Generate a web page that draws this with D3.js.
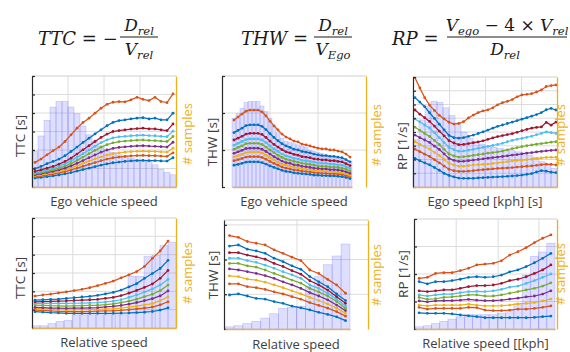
<!DOCTYPE html>
<html lang="en">
<head>
<meta charset="UTF-8">
<title>TTC / THW / RP percentiles</title>
<style>
  body { margin: 0; background: #fff; }
  svg { display: block; }
</style>
</head>
<body>
<script src="https://d3js.org/d3.v7.min.js"></script>
<div id="chart"></div>
<script>
// percentile curves, listed bottom (10%) to top (90%)
const percentiles = ["10%", "20%", "30%", "40%", "50%", "60%", "70%", "80%", "90%"];
const lineColors = ["#0072BD", "#D95319", "#EDB120", "#7E2F8E", "#77AC30", "#4DBEEE", "#A2142F", "#0072BD", "#D95319"];

// ---- TTC vs ego vehicle speed (24 bins) ----
const ttcEgoCounts = [0.32,0.46,0.60,0.72,0.77,0.77,0.72,0.66,0.55,0.47,0.41,0.37,0.34,0.31,0.29,0.28,0.26,0.25,0.24,0.23,0.20,0.16,0.13,0.11];
const ttcEgoCurves = [
  [0.48,0.52,0.56,0.60,0.65,0.71,0.78,0.86,0.94,1.02,1.10,1.18,1.25,1.31,1.35,1.38,1.41,1.43,1.44,1.43,1.43,1.41,1.40,1.58],
  [0.56,0.60,0.65,0.70,0.76,0.83,0.92,1.02,1.12,1.22,1.32,1.42,1.51,1.58,1.62,1.65,1.68,1.70,1.71,1.69,1.69,1.67,1.66,1.85],
  [0.61,0.66,0.72,0.78,0.85,0.93,1.03,1.15,1.28,1.40,1.52,1.63,1.73,1.80,1.85,1.88,1.91,1.93,1.94,1.92,1.92,1.90,1.88,2.10],
  [0.66,0.72,0.78,0.85,0.93,1.02,1.14,1.28,1.43,1.58,1.73,1.88,2.00,2.09,2.14,2.17,2.20,2.22,2.23,2.21,2.20,2.18,2.16,2.42],
  [0.71,0.78,0.85,0.93,1.02,1.13,1.27,1.44,1.62,1.80,1.98,2.15,2.29,2.39,2.45,2.48,2.51,2.53,2.54,2.52,2.51,2.48,2.46,2.73],
  [0.76,0.84,0.92,1.01,1.12,1.25,1.41,1.60,1.80,2.00,2.20,2.40,2.55,2.66,2.71,2.74,2.77,2.79,2.80,2.78,2.77,2.74,2.72,3.02],
  [0.84,0.93,1.02,1.11,1.24,1.38,1.56,1.78,2.01,2.23,2.46,2.68,2.86,3.00,3.05,3.09,3.13,3.16,3.18,3.14,3.14,3.09,3.05,3.41],
  [0.99,1.11,1.26,1.38,1.51,1.69,1.92,2.16,2.41,2.64,2.87,3.09,3.31,3.49,3.59,3.63,3.68,3.72,3.75,3.68,3.72,3.63,3.63,3.99],
  [1.33,1.51,1.74,1.96,2.16,2.46,2.82,3.18,3.49,3.72,3.99,4.26,4.47,4.58,4.62,4.60,4.71,4.85,4.74,4.67,4.85,4.62,4.56,5.03]
];

// ---- THW vs ego vehicle speed (30 bins) ----
const thwEgoCounts = [0.62,0.66,0.71,0.76,0.77,0.77,0.77,0.73,0.68,0.62,0.55,0.49,0.44,0.41,0.40,0.39,0.38,0.37,0.36,0.33,0.32,0.31,0.30,0.29,0.28,0.27,0.26,0.25,0.24,0.23];
const thwEgoCurves = [
  [0.59,0.61,0.64,0.67,0.68,0.68,0.68,0.66,0.62,0.57,0.53,0.49,0.45,0.42,0.41,0.38,0.37,0.36,0.35,0.34,0.32,0.32,0.31,0.31,0.30,0.30,0.29,0.28,0.26,0.23],
  [0.71,0.74,0.77,0.81,0.82,0.82,0.82,0.80,0.75,0.69,0.64,0.59,0.54,0.51,0.49,0.46,0.45,0.43,0.42,0.41,0.39,0.38,0.37,0.37,0.36,0.36,0.35,0.34,0.31,0.28],
  [0.81,0.85,0.88,0.93,0.94,0.94,0.94,0.92,0.86,0.79,0.73,0.67,0.62,0.59,0.56,0.53,0.52,0.49,0.48,0.47,0.45,0.44,0.43,0.43,0.41,0.41,0.40,0.39,0.36,0.32],
  [0.91,0.95,0.99,1.04,1.05,1.05,1.05,1.02,0.96,0.89,0.82,0.76,0.70,0.66,0.64,0.60,0.59,0.56,0.55,0.53,0.51,0.50,0.49,0.49,0.47,0.47,0.46,0.44,0.41,0.37],
  [1.02,1.07,1.11,1.17,1.18,1.18,1.18,1.15,1.08,1.00,0.93,0.86,0.80,0.75,0.72,0.69,0.67,0.64,0.63,0.61,0.59,0.57,0.56,0.56,0.54,0.54,0.53,0.51,0.48,0.43],
  [1.13,1.18,1.23,1.28,1.30,1.30,1.30,1.27,1.20,1.11,1.03,0.96,0.89,0.84,0.81,0.77,0.76,0.72,0.71,0.69,0.67,0.65,0.64,0.64,0.62,0.62,0.60,0.59,0.55,0.50],
  [1.27,1.32,1.37,1.43,1.45,1.45,1.45,1.42,1.34,1.24,1.15,1.08,1.01,0.95,0.92,0.88,0.86,0.82,0.81,0.79,0.76,0.75,0.73,0.73,0.71,0.71,0.69,0.68,0.63,0.58],
  [1.47,1.53,1.59,1.66,1.68,1.68,1.68,1.64,1.55,1.44,1.34,1.25,1.17,1.11,1.07,1.02,1.00,0.96,0.94,0.92,0.89,0.87,0.85,0.85,0.83,0.83,0.81,0.79,0.74,0.68],
  [1.81,1.89,1.97,2.05,2.08,2.08,2.08,2.03,1.92,1.78,1.65,1.54,1.43,1.35,1.30,1.24,1.22,1.16,1.14,1.11,1.08,1.05,1.03,1.03,1.00,1.00,0.97,0.95,0.89,0.81]
];

// ---- RP vs ego speed (24 bins, 30 curve points) ----
const rpEgoCounts = [0.43,0.61,0.73,0.78,0.77,0.72,0.65,0.58,0.50,0.44,0.41,0.39,0.37,0.36,0.35,0.34,0.33,0.32,0.31,0.29,0.27,0.23,0.20,0.17];
const rpEgoCurves = [
  [2.08,1.91,1.76,1.61,1.42,1.22,0.99,0.84,0.73,0.65,0.63,0.63,0.63,0.66,0.68,0.70,0.72,0.74,0.76,0.78,0.80,0.83,0.87,0.92,0.98,1.09,1.19,1.15,1.08,1.04],
  [2.75,2.57,2.39,2.22,1.99,1.76,1.52,1.29,1.19,1.13,1.13,1.16,1.19,1.23,1.26,1.29,1.32,1.35,1.37,1.39,1.41,1.45,1.48,1.51,1.54,1.58,1.62,1.66,1.64,1.60],
  [3.30,3.10,2.93,2.76,2.52,2.29,2.00,1.73,1.60,1.51,1.51,1.56,1.60,1.62,1.65,1.67,1.71,1.75,1.80,1.84,1.90,1.93,1.96,1.99,2.02,2.07,2.11,2.15,2.16,2.16],
  [3.78,3.59,3.42,3.24,2.98,2.73,2.41,2.08,1.94,1.86,1.87,1.91,1.96,2.00,2.05,2.10,2.14,2.18,2.22,2.27,2.32,2.36,2.41,2.46,2.50,2.55,2.59,2.63,2.66,2.69],
  [4.35,4.12,3.90,3.68,3.39,3.09,2.74,2.40,2.26,2.18,2.20,2.25,2.30,2.35,2.40,2.46,2.50,2.55,2.61,2.70,2.79,2.86,2.93,3.00,3.06,3.11,3.16,3.21,3.26,3.30],
  [4.95,4.73,4.51,4.29,3.95,3.59,3.23,2.89,2.72,2.60,2.61,2.68,2.74,2.81,2.88,2.95,3.02,3.09,3.18,3.29,3.39,3.47,3.54,3.61,3.69,3.80,3.90,4.00,3.95,3.90],
  [5.60,5.30,5.04,4.77,4.43,4.07,3.72,3.37,3.20,3.08,3.10,3.16,3.22,3.28,3.36,3.47,3.57,3.67,3.74,3.81,3.88,3.98,4.09,4.19,4.28,4.33,4.37,4.70,4.50,4.72],
  [6.50,6.18,5.84,5.40,4.99,4.57,4.16,3.75,3.59,3.55,3.59,3.68,3.78,3.89,4.01,4.14,4.28,4.41,4.51,4.62,4.72,4.83,4.93,5.04,5.15,5.27,5.41,5.62,5.72,5.60],
  [7.95,7.20,6.50,5.96,5.57,5.21,4.95,4.71,4.58,4.62,4.75,5.02,5.23,5.41,5.53,5.61,5.76,5.98,6.13,6.23,6.36,6.56,6.70,6.74,6.79,6.91,7.06,7.31,7.38,7.42]
];

// ---- TTC vs relative speed (18 bins) ----
const ttcRelCounts = [0.02,0.02,0.04,0.06,0.07,0.12,0.12,0.12,0.12,0.12,0.12,0.12,0.47,0.47,0.65,0.66,0.75,0.78];
const ttcRelCurves = [
  [0.89,0.87,0.84,0.82,0.80,0.80,0.80,0.80,0.80,0.80,0.80,0.81,0.82,0.84,0.86,0.90,0.98,1.10],
  [0.98,0.96,0.94,0.91,0.89,0.90,0.90,0.91,0.92,0.93,0.94,0.96,1.00,1.04,1.09,1.14,1.26,1.43],
  [1.07,1.05,1.03,1.00,0.98,0.99,1.00,1.01,1.02,1.04,1.06,1.09,1.14,1.19,1.26,1.33,1.49,1.70],
  [1.12,1.11,1.09,1.08,1.07,1.08,1.09,1.10,1.11,1.15,1.18,1.23,1.30,1.39,1.49,1.60,1.75,2.02],
  [1.25,1.24,1.22,1.21,1.20,1.21,1.22,1.23,1.24,1.28,1.32,1.38,1.47,1.58,1.71,1.84,2.04,2.34],
  [1.34,1.34,1.34,1.34,1.34,1.35,1.36,1.37,1.38,1.42,1.46,1.54,1.67,1.80,1.96,2.13,2.35,2.65],
  [1.43,1.44,1.45,1.47,1.48,1.50,1.52,1.54,1.56,1.62,1.67,1.77,1.90,2.05,2.22,2.40,2.71,3.14],
  [1.52,1.54,1.56,1.58,1.61,1.65,1.69,1.73,1.78,1.86,1.94,2.07,2.24,2.42,2.71,2.97,3.25,3.69],
  [1.74,1.80,1.85,1.91,1.97,2.04,2.11,2.20,2.31,2.43,2.56,2.73,2.90,3.08,3.36,3.80,4.20,4.74]
];

// ---- THW vs relative speed (14 bins) ----
const thwRelCounts = [0.02,0.03,0.05,0.07,0.10,0.14,0.19,0.20,0.21,0.39,0.48,0.59,0.67,0.78];
const thwRelCurves = [
  [0.98,1.01,0.95,0.88,0.86,0.79,0.74,0.66,0.61,0.55,0.48,0.42,0.35,0.24],
  [1.30,1.30,1.22,1.19,1.14,1.07,1.01,0.93,0.86,0.76,0.68,0.60,0.50,0.37],
  [1.53,1.51,1.44,1.41,1.35,1.27,1.19,1.10,1.01,0.91,0.82,0.72,0.60,0.45],
  [1.73,1.70,1.65,1.60,1.54,1.46,1.36,1.27,1.17,1.05,0.95,0.84,0.69,0.53],
  [1.89,1.89,1.82,1.78,1.70,1.60,1.51,1.41,1.32,1.17,1.07,0.95,0.79,0.60],
  [2.04,2.04,1.97,1.92,1.84,1.75,1.65,1.56,1.46,1.27,1.17,1.03,0.86,0.66],
  [2.20,2.20,2.13,2.08,2.01,1.89,1.80,1.68,1.58,1.39,1.27,1.12,0.93,0.74],
  [2.39,2.42,2.30,2.25,2.18,2.04,1.94,1.82,1.72,1.51,1.36,1.22,1.01,0.82],
  [2.69,2.64,2.52,2.47,2.42,2.28,2.18,2.07,1.97,1.70,1.60,1.43,1.27,1.03]
];

// ---- RP vs relative speed (17 bins) ----
const rpRelCounts = [0.02,0.03,0.05,0.07,0.09,0.11,0.13,0.13,0.13,0.13,0.14,0.17,0.23,0.49,0.66,0.70,0.78];
const rpRelCurves = [
  [0.59,0.57,0.57,0.57,0.55,0.51,0.48,0.45,0.41,0.41,0.41,0.41,0.41,0.41,0.42,0.45,0.47],
  [0.79,0.72,0.75,0.75,0.75,0.75,0.79,0.78,0.69,0.67,0.67,0.69,0.72,0.72,0.75,0.79,0.84],
  [0.87,0.84,0.87,0.87,0.87,0.87,0.90,0.87,0.84,0.84,0.85,0.87,0.91,0.93,0.96,1.02,1.09],
  [1.02,0.99,1.02,1.03,1.03,1.05,1.08,1.05,1.03,1.03,1.05,1.09,1.12,1.17,1.20,1.27,1.39],
  [1.15,1.08,1.10,1.15,1.17,1.20,1.24,1.24,1.20,1.20,1.24,1.30,1.36,1.42,1.48,1.56,1.68],
  [1.24,1.20,1.24,1.27,1.27,1.32,1.36,1.37,1.36,1.39,1.44,1.52,1.56,1.66,1.76,1.88,2.00],
  [1.39,1.36,1.39,1.42,1.42,1.48,1.54,1.58,1.58,1.60,1.66,1.76,1.81,1.90,2.02,2.15,2.33],
  [1.72,1.64,1.72,1.72,1.76,1.81,1.88,1.90,1.88,1.90,1.96,2.08,2.15,2.27,2.41,2.57,2.75],
  [1.84,1.88,2.02,2.05,2.05,2.12,2.21,2.33,2.36,2.39,2.48,2.69,2.81,2.96,3.14,3.30,3.42]
];

// panel layout: box in px, histogram pixel span, grid positions in bin units
const panels = [
  { counts: ttcEgoCounts, curves: ttcEgoCurves, box: [32, 76, 176, 187], bins: [32, 176], span: [0.5, 23.5],
    yMax: 6, xGrid: [6, 12, 18], xLabel: "Ego vehicle speed", yLabel: "TTC [s]", labY: 206, yLabX: 20, yLabY: 136, rLabX: 188, rLabY: 134 },
  { counts: thwEgoCounts, curves: thwEgoCurves, box: [222, 76, 366, 187], bins: [232, 352], span: [0.5, 29.5],
    yMax: 3, xGrid: [9.5, 21.5], xLabel: "Ego vehicle speed", yLabel: "THW [s]", labY: 206, yLabX: 212, yLabY: 142, rLabX: 377, rLabY: 135 },
  { counts: rpEgoCounts, curves: rpEgoCurves, box: [413, 77, 557, 187], bins: [413, 557], span: [0.33, 23.83],
    yMax: 8, xGrid: [6.1, 12.1, 18.1], xLabel: "Ego speed [kph] [s]", yLabel: "RP [1/s]", labY: 206, yLabX: 402, yLabY: 146, rLabX: 561, rLabY: 135 },
  { counts: ttcRelCounts, curves: ttcRelCurves, box: [32, 218, 176, 328], bins: [32, 176], span: [0.375, 17.0],
    yMax: 6, xGrid: [5.1, 10.4, 15.4], xLabel: "Relative speed", yLabel: "TTC [s]", labY: 347, yLabX: 20, yLabY: 278, rLabX: 188, rLabY: 273 },
  { counts: thwRelCounts, curves: thwRelCurves, box: [224, 220, 368, 329], bins: [225, 350], span: [0.5, 13.5],
    yMax: 3.14, xGrid: [8.06], xLabel: "Relative speed", yLabel: "THW [s]", labY: 349, yLabX: 213, yLabY: 275, rLabX: 377, rLabY: 275 },
  { counts: rpRelCounts, curves: rpRelCurves, box: [414, 219, 557, 329], bins: [415, 555], span: [0.5, 16.5],
    yMax: 4, xGrid: [5, 10.1, 15.05], xLabel: "Relative speed [[kph]", yLabel: "RP [1/s]", labY: 348, yLabX: 403, yLabY: 274, rLabX: 561, rLabY: 274 }
];

const svg = d3.select("#chart").append("svg")
  .attr("width", 570)
  .attr("height", 352)
  .style("font-family", "'Open Sans', sans-serif");

svg.append("rect").attr("width", 570).attr("height", 352).attr("fill", "#fff");

panels.forEach((p, k) => {
  const [left, top, right, bottom] = p.box;
  const g = svg.append("g");

  const x = d3.scaleLinear().domain([0, p.counts.length]).range(p.bins);
  const y = d3.scaleLinear().domain([0, p.yMax]).range([bottom, top]);
  const yCount = d3.scaleLinear().domain([0, 1]).range([bottom, top]);

  svg.append("clipPath").attr("id", "clip" + k)
    .append("rect").attr("x", left).attr("y", top).attr("width", right - left).attr("height", bottom - top);

  // grid
  g.selectAll(".vgrid").data(p.xGrid).join("line")
    .attr("x1", d => x(d)).attr("x2", d => x(d))
    .attr("y1", top).attr("y2", bottom)
    .attr("stroke", "#dcdcdc").attr("stroke-width", 1);
  g.selectAll(".hgrid").data(d3.range(1, Math.ceil(p.yMax))).join("line")
    .attr("x1", left).attr("x2", right)
    .attr("y1", d => y(d)).attr("y2", d => y(d))
    .attr("stroke", "#dcdcdc").attr("stroke-width", 1);

  // histogram of samples (right axis)
  g.selectAll(".bar").data(p.counts).join("rect")
    .attr("x", (d, i) => x(i))
    .attr("width", x(1) - x(0))
    .attr("y", d => yCount(d))
    .attr("height", d => bottom - yCount(d))
    .attr("fill", "rgba(90,90,250,0.20)")
    .attr("stroke", "rgba(90,90,250,0.28)")
    .attr("stroke-width", 0.7);

  // percentile curves
  const n = p.curves[0].length;
  const xi = d3.scaleLinear().domain([0, n - 1]).range([x(p.span[0]), x(p.span[1])]);
  const line = d3.line().x((d, i) => xi(i)).y(d => y(d));
  const lines = g.append("g").attr("clip-path", `url(#clip${k})`);
  p.curves.forEach((c, s) => {
    lines.append("path")
      .datum(c)
      .attr("d", line)
      .attr("fill", "none")
      .attr("stroke", lineColors[s])
      .attr("stroke-width", 1.25)
      .attr("data-pct", percentiles[s]);
    lines.selectAll(".m" + s).data(c).join("circle")
      .attr("cx", (d, i) => xi(i))
      .attr("cy", d => y(d))
      .attr("r", 1.4)
      .attr("fill", lineColors[s]);
  });

  // box: light top, dark left, orange right and bottom
  g.append("line").attr("x1", left).attr("x2", right).attr("y1", top).attr("y2", top)
    .attr("stroke", "#cfcfcf");
  g.append("g")
    .attr("transform", `translate(${left},0)`)
    .call(d3.axisLeft(y).tickValues(d3.range(0, Math.floor(p.yMax) + 1)).tickSize(-3).tickSizeOuter(0).tickFormat(""))
    .call(a => a.selectAll("path, line").attr("stroke", "#2b2b2b").attr("stroke-width", 1.2));
  g.append("g")
    .attr("transform", `translate(${right},0)`)
    .call(d3.axisRight(yCount).tickValues([]).tickSizeOuter(0))
    .call(a => a.select(".domain").attr("stroke", "#EDB120").attr("stroke-width", 1.3));
  g.append("g")
    .attr("transform", `translate(0,${bottom})`)
    .call(d3.axisBottom(x).tickValues([]).tickSizeOuter(0))
    .call(a => a.select(".domain").attr("stroke", "#e3b35a").attr("stroke-width", 1.3));

  // labels
  g.append("text")
    .attr("x", (left + right) / 2).attr("y", p.labY)
    .attr("text-anchor", "middle")
    .style("font-size", "13px").style("fill", "#404040")
    .text(p.xLabel);
  g.append("text")
    .attr("transform", `translate(${p.yLabX},${p.yLabY}) rotate(-90)`)
    .attr("text-anchor", "middle").attr("dy", "0.35em")
    .style("font-size", "13.5px").style("fill", "#404040")
    .text(p.yLabel);
  g.append("text")
    .attr("transform", `translate(${p.rLabX},${p.rLabY}) rotate(-90)`)
    .attr("text-anchor", "middle").attr("dy", "0.3em")
    .style("font-size", "13px").style("fill", "#EDB120")
    .text("# samples");
});

// formulas at the top
const mathFont = "'DejaVu Serif', serif";
function mathText(x, y, parts, anchor, size) {
  const t = svg.append("text")
    .attr("x", x).attr("y", y)
    .attr("text-anchor", anchor)
    .style("font-family", mathFont)
    .style("font-style", "italic")
    .style("font-size", size + "px")
    .style("fill", "#1a1a1a");
  let shifted = false;
  parts.forEach(pt => {
    const s = t.append("tspan").text(pt.t);
    if (pt.sub) {
      s.style("font-size", (size * 0.68) + "px");
      if (!shifted) s.attr("dy", 4);
      shifted = true;
    } else {
      if (shifted) s.attr("dy", -4);
      shifted = false;
    }
    if (pt.up) s.style("font-style", "normal");
  });
  return t;
}
function fracBar(x1, x2, y) {
  svg.append("line").attr("x1", x1).attr("x2", x2).attr("y1", y).attr("y2", y)
    .attr("stroke", "#1a1a1a").attr("stroke-width", 1);
}

mathText(38, 45, [{t: "TTC = "}, {t: "\u2212", up: true}], "start", 18);
mathText(139, 31, [{t: "D"}, {t: "rel", sub: true}], "middle", 17);
fracBar(120, 158, 37);
mathText(139, 55, [{t: "V"}, {t: "rel", sub: true}], "middle", 17);

mathText(241, 45, [{t: "THW = "}], "start", 18);
mathText(333, 31, [{t: "D"}, {t: "rel", sub: true}], "middle", 17);
fracBar(314, 352, 37);
mathText(333, 55, [{t: "V"}, {t: "Ego", sub: true}], "middle", 17);

mathText(392, 45, [{t: "RP = "}], "start", 18);
mathText(507, 31, [{t: "V"}, {t: "ego", sub: true}, {t: " \u2212 4 \u00d7 ", up: true}, {t: "V"}, {t: "rel", sub: true}], "middle", 17);
fracBar(447, 567, 37);
mathText(505, 55, [{t: "D"}, {t: "rel", sub: true}], "middle", 17);
</script>
</body>
</html>
